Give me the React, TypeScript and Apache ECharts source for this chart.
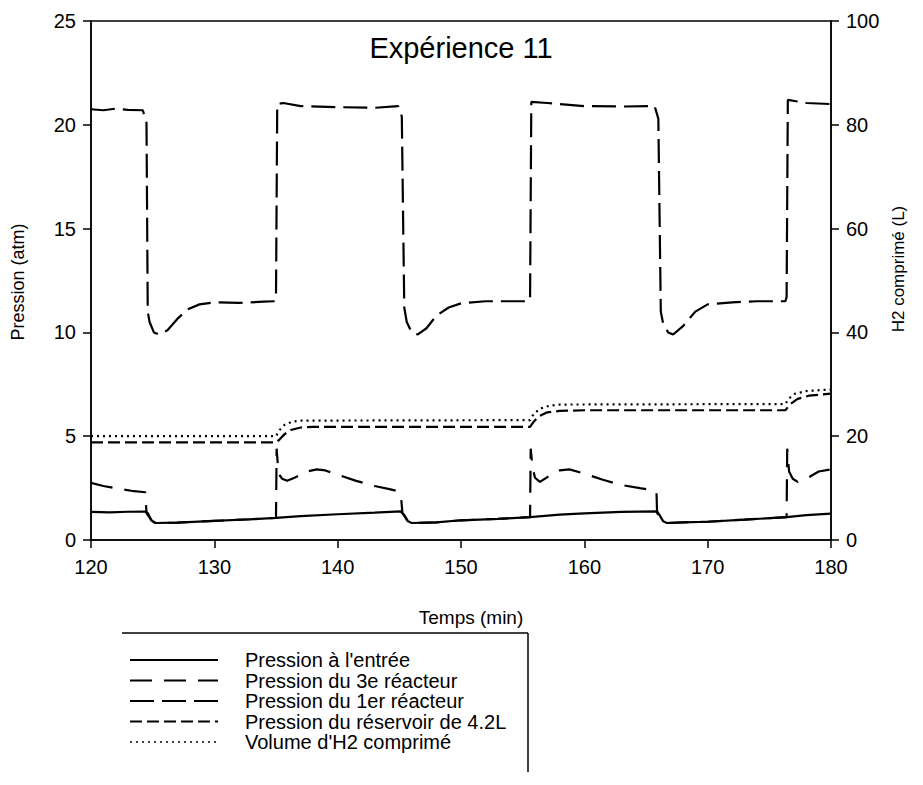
import React, { useEffect, useRef } from "react";
import * as echarts from "echarts";

// ---- Data ----
const xTicks = [120, 130, 140, 150, 160, 170, 180];

// Pression à l'entrée (atm)
const inletTime = [120, 121.5, 123, 124.4, 124.6, 124.9, 125.2, 127, 130, 133, 135, 137, 140, 143, 145.1, 145.4, 145.7, 146, 148, 150, 153, 155.6, 158, 160, 163, 165.9, 166.1, 166.4, 166.7, 168, 170, 173, 176.4, 178, 180];
const inletP = [1.35, 1.33, 1.36, 1.37, 1.3, 0.95, 0.82, 0.84, 0.92, 1.0, 1.07, 1.15, 1.24, 1.32, 1.38, 1.2, 0.9, 0.82, 0.85, 0.95, 1.02, 1.1, 1.22, 1.28, 1.35, 1.38, 1.2, 0.9, 0.82, 0.85, 0.88, 0.98, 1.1, 1.2, 1.27];

// Pression du 3e réacteur (atm)
const r3Time = [120, 121, 122, 123.5, 124.4, 124.5, 124.9, 125.2, 127, 130, 133, 135, 135.05, 135.2, 135.5, 135.9, 136.5, 137.5, 138.3, 139, 140, 141.5, 143, 144.2, 144.9, 145.15, 145.25, 145.7, 146, 148, 150, 153, 155.6, 155.65, 155.8, 156.0, 156.4, 157.2, 158, 158.8, 160, 161.5, 163, 164.5, 165.6, 165.85, 165.9, 166.4, 166.7, 168, 170, 173, 176.4, 176.45, 176.6, 176.9, 177.3, 178, 179, 180];
const r3P = [2.75, 2.6, 2.5, 2.35, 2.3, 1.3, 0.95, 0.82, 0.84, 0.92, 1.0, 1.07, 4.4, 3.2, 2.95, 2.85, 3.0, 3.3, 3.4, 3.35, 3.15, 2.85, 2.6, 2.45, 2.35, 2.0, 1.3, 0.9, 0.82, 0.85, 0.95, 1.02, 1.1, 4.4, 3.5, 3.0, 2.8, 3.1, 3.35, 3.4, 3.2, 2.9, 2.65, 2.5, 2.4, 2.3, 1.3, 0.9, 0.82, 0.85, 0.88, 0.98, 1.1, 4.4, 3.3, 2.95, 2.8, 2.95, 3.3, 3.4];

// Pression du 1er réacteur (atm)
const r1Time = [120, 121, 122, 123, 124.2, 124.5, 124.6, 124.75, 125.1, 125.5, 126.2, 127, 127.8, 128.8, 130, 132, 134, 134.9, 135.0, 135.1, 135.6, 137, 140, 143, 144.9, 145.2, 145.4, 145.6, 146.0, 146.5, 147.2, 148, 149, 150, 152, 155.4, 155.6, 155.7, 157, 160, 163, 165.7, 166.0, 166.2, 166.4, 166.8, 167.2, 168, 169, 170, 172, 174, 176.3, 176.4, 176.5, 178, 180];
const r1P = [20.75, 20.7, 20.78, 20.72, 20.7, 20.1, 11.0, 10.5, 10.0, 9.9, 10.1, 10.65, 11.1, 11.35, 11.45, 11.42, 11.48, 11.5, 11.7, 21.0, 21.05, 20.9, 20.85, 20.82, 20.9, 20.4, 11.2, 10.5, 10.0, 9.9, 10.2, 10.8, 11.2, 11.4, 11.5, 11.5, 11.6, 21.1, 21.05, 20.9, 20.88, 20.9, 20.3, 11.0, 10.4, 10.0, 9.9, 10.3, 11.0, 11.35, 11.45, 11.5, 11.5, 11.7, 21.2, 21.05, 21.0];

// Pression du réservoir de 4.2L (atm)
const tankTime = [120, 135.0, 135.3, 135.7, 136.2, 137, 138, 155.6, 155.9, 156.3, 157, 158, 160, 176.3, 176.7, 177.3, 178.2, 180];
const tankP = [4.7, 4.7, 4.85, 5.1, 5.3, 5.42, 5.45, 5.45, 5.7, 5.95, 6.15, 6.22, 6.25, 6.25, 6.55, 6.8, 6.95, 7.05];

// Volume d'H2 comprimé (L)
const volTime = [120, 135.0, 135.3, 135.7, 136.3, 137, 155.6, 155.9, 156.4, 157.2, 158, 176.3, 176.6, 177.1, 178, 180];
const volL = [20.0, 20.0, 21.2, 22.2, 22.8, 23.0, 23.1, 24.3, 25.3, 25.9, 26.1, 26.2, 27.3, 28.2, 28.7, 29.0];

const legendNames = [
  "Pression à l'entrée",
  "Pression du 3e réacteur",
  "Pression du 1er réacteur",
  "Pression du réservoir de 4.2L",
  "Volume d'H2 comprimé",
];

const FONT = "Liberation Sans, Arial, sans-serif";
const dashes: (number[] | null)[] = [null, [22, 12], [24, 8], [12, 5], [2, 4]];

const pairs = (t: number[], v: number[]) => t.map((x, i) => [x, v[i]]);

export default function App() {
  const ref = useRef<HTMLDivElement>(null);
  useEffect(() => {
    document.body.style.margin = "0";
    if (!ref.current) return;
    const chart = echarts.init(ref.current, null, { renderer: "svg" });

    const lineSeries = (name: string, data: number[][], dash: number[] | null, yAxisIndex = 0) => ({
      name,
      type: "line",
      data,
      yAxisIndex,
      showSymbol: false,
      symbol: "none",
      smooth: false,
      lineStyle: { color: "#000", width: 2.2, type: dash ? dash : "solid" },
      z: 3,
    });

    const legendGraphics: any[] = [];
    const rowY = [660, 680.5, 701, 721.5, 742];
    legendNames.forEach((n, i) => {
      legendGraphics.push({
        type: "line",
        shape: { x1: 130, y1: rowY[i], x2: 218, y2: rowY[i] },
        style: { stroke: "#000", lineWidth: i === 4 ? 1.5 : 1.8, lineDash: dashes[i] || undefined },
      });
      legendGraphics.push({
        type: "text",
        x: 245,
        y: rowY[i],
        style: { text: n, font: `20px ${FONT}`, fill: "#000", textAlign: "left", textVerticalAlign: "middle" },
      });
    });
    legendGraphics.push({ type: "line", shape: { x1: 122, y1: 633, x2: 528, y2: 633 }, style: { stroke: "#000", lineWidth: 1.5 } });
    legendGraphics.push({ type: "line", shape: { x1: 528, y1: 633, x2: 528, y2: 772 }, style: { stroke: "#000", lineWidth: 1.5 } });

    const axisCommon = {
      axisLine: { show: true, lineStyle: { color: "#000", width: 1.5 } },
      axisTick: { show: true, inside: false, length: 8, lineStyle: { color: "#000", width: 1.5 } },
      splitLine: { show: false },
    };

    chart.setOption({
      animation: false,
      backgroundColor: "#fff",
      grid: { left: 91, right: 92, top: 21, bottom: 245, show: true, borderColor: "#000", borderWidth: 1.5, containLabel: false, outerBoundsMode: "none" },
      xAxis: {
        type: "value",
        min: 120,
        max: 180,
        interval: 10,
        ...axisCommon,
        axisLabel: { color: "#000", fontSize: 20, fontFamily: FONT, margin: 17, formatter: (v: number) => (xTicks.includes(v) ? String(v) : "") },
      },
      yAxis: [
        {
          type: "value",
          min: 0,
          max: 25,
          interval: 5,
          position: "left",
          ...axisCommon,
          axisLabel: { color: "#000", fontSize: 20, fontFamily: FONT, margin: 15 },
        },
        {
          type: "value",
          min: 0,
          max: 100,
          interval: 20,
          position: "right",
          ...axisCommon,
          axisLabel: { color: "#000", fontSize: 20, fontFamily: FONT, margin: 15 },
        },
      ],
      series: [
        lineSeries(legendNames[4], pairs(volTime, volL), dashes[4], 1),
        lineSeries(legendNames[3], pairs(tankTime, tankP), dashes[3]),
        lineSeries(legendNames[0], pairs(inletTime, inletP), null),
        lineSeries(legendNames[1], pairs(r3Time, r3P), dashes[1]),
        lineSeries(legendNames[2], pairs(r1Time, r1P), dashes[2]),
      ],
      graphic: [
        {
          type: "text",
          x: 461,
          y: 48,
          style: { text: "Expérience 11", font: `29px ${FONT}`, fill: "#000", textAlign: "center", textVerticalAlign: "middle" },
        },
        {
          type: "text",
          x: 471,
          y: 617,
          style: { text: "Temps (min)", font: `19px ${FONT}`, fill: "#000", textAlign: "center", textVerticalAlign: "middle" },
        },
        {
          type: "text",
          x: 18,
          y: 282,
          rotation: Math.PI / 2,
          style: { text: "Pression (atm)", font: `18px ${FONT}`, fill: "#000", textAlign: "center", textVerticalAlign: "middle" },
        },
        {
          type: "text",
          x: 898,
          y: 269,
          rotation: Math.PI / 2,
          style: { text: "H2 comprimé (L)", font: `17px ${FONT}`, fill: "#000", textAlign: "center", textVerticalAlign: "middle" },
        },
        ...legendGraphics,
      ],
    });
    return () => chart.dispose();
  }, []);
  return <div ref={ref} style={{ width: 923, height: 785 }} />;
}
